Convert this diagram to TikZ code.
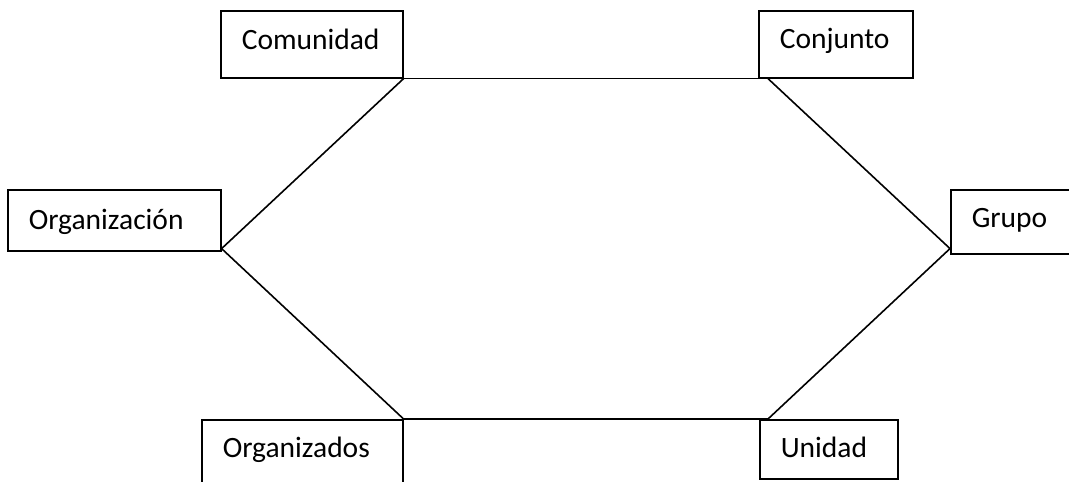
\documentclass[tikz,border=0pt]{standalone}
\usepackage{fontspec}
\setmainfont{Carlito}
\usepackage{tikz}
\usetikzlibrary{calc}
\tikzset{
  wordBox/.style={draw=black, line width=1.6pt, rectangle, anchor=north west,
    inner xsep=21pt, inner ysep=0pt, align=left,
    font=\fontsize{29.5}{34}\selectfont},
  link/.style={draw=black, line width=1.6pt}
}

\begin{document}
\begin{tikzpicture}[x=1pt, y=-1pt]
  \useasboundingbox (0,0) rectangle (1069,482);

  % boxes
  \node[wordBox, text width=140pt, text height=39pt, text depth=28pt] (com) at (220,10) {Comunidad};
  \node[wordBox, text width=112pt, text height=38pt, text depth=29pt] (con) at (758,10) {Conjunto};
  \node[wordBox, text width=171pt, text height=40pt, text depth=21pt] (org) at (7,189) {Organización};
  \node[wordBox, text width=83pt, text height=38pt, text depth=26pt] (gru) at (950,189) {Grupo};
  \node[wordBox, text width=159pt, text height=38pt, text depth=32pt] (ozs) at (201,419) {Organizados};
  \node[wordBox, text width=96pt, text height=38pt, text depth=21pt] (uni) at (759,419) {Unidad};

  % corners
  \coordinate (conC) at ([xshift=10pt]con.south west);
  \coordinate (gruC) at ([yshift=6pt]gru.south west);
  \coordinate (uniC) at ([xshift=9pt]uni.north west);
  \coordinate (orgC) at ([yshift=3pt]org.south east);

  % links
  \draw[link] (com.south east) -- (conC);
  \draw[link] (conC) -- (gruC);
  \draw[link] (gruC) -- (uniC);
  \draw[link] (uniC) -- (ozs.north east);
  \draw[link] (ozs.north east) -- (orgC);
  \draw[link] (orgC) -- (com.south east);
\end{tikzpicture}
\end{document}
